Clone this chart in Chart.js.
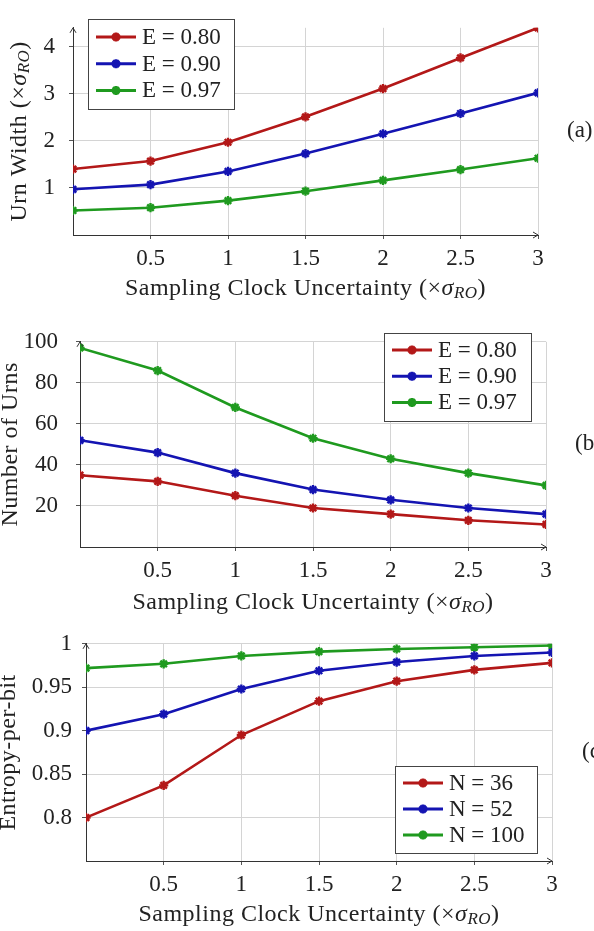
<!DOCTYPE html>
<html>
<head>
<meta charset="utf-8">
<script src="https://cdn.jsdelivr.net/npm/chart.js@4"></script>
<style>
  html, body { margin: 0; padding: 0; background: #fff; }
  #page { position: relative; width: 594px; height: 931px; overflow: hidden; }
  .panel { position: absolute; left: 0; width: 594px; }
</style>
</head>
<body>
<div id="page">
  <div class="panel" style="top:0;height:310px"><canvas id="chart-a"></canvas></div>
  <div class="panel" style="top:310px;height:310px"><canvas id="chart-b"></canvas></div>
  <div class="panel" style="top:620px;height:311px"><canvas id="chart-c"></canvas></div>
</div>
<script>
// ---- data ----
const xValues = [0, 0.5, 1, 1.5, 2, 2.5, 3];
const xTicks = [0.5, 1, 1.5, 2, 2.5, 3];

const widthLabels = ["E = 0.80", "E = 0.90", "E = 0.97"];
const widthE80 = [1.40, 1.57, 1.97, 2.51, 3.11, 3.76, 4.40];
const widthE90 = [0.97, 1.07, 1.35, 1.73, 2.15, 2.58, 3.02];
const widthE97 = [0.52, 0.58, 0.73, 0.93, 1.16, 1.39, 1.63];
const widthTicks = [1, 2, 3, 4];

const urnLabels = ["E = 0.80", "E = 0.90", "E = 0.97"];
const urnsE80 = [35, 32, 25, 19, 16, 13, 11];
const urnsE90 = [52, 46, 36, 28, 23, 19, 16];
const urnsE97 = [97, 86, 68, 53, 43, 36, 30];
const urnTicks = [20, 40, 60, 80, 100];

const entropyLabels = ["N = 36", "N = 52", "N = 100"];
const entropyN36 = [0.800, 0.837, 0.895, 0.934, 0.957, 0.970, 0.978];
const entropyN52 = [0.900, 0.919, 0.948, 0.969, 0.979, 0.986, 0.990];
const entropyN100 = [0.972, 0.977, 0.986, 0.991, 0.994, 0.996, 0.998];
const entropyTicks = [0.8, 0.85, 0.9, 0.95, 1];

const seriesColors = ["#b31818", "#1414b2", "#1f9a1f"];

const FONT = "'Liberation Serif', 'DejaVu Serif', serif";
const TEXT = "#222";
Chart.defaults.font.family = FONT;
Chart.defaults.font.size = 23;
Chart.defaults.color = TEXT;


// draw a row of text pieces (for the sigma_RO subscript)
function drawRich(ctx, parts, cx, cy, rot) {
  ctx.save();
  ctx.translate(cx, cy);
  ctx.rotate(rot || 0);
  ctx.textBaseline = "middle";
  ctx.fillStyle = TEXT;
  ctx.letterSpacing = "0.5px";
  let total = 0;
  parts.forEach(p => { ctx.font = p.font; p.w = ctx.measureText(p.t).width; total += p.w; });
  let x = -total / 2;
  parts.forEach(p => {
    ctx.font = p.font;
    ctx.fillText(p.t, x, p.dy || 0);
    x += p.w;
  });
  ctx.restore();
}

function titleParts(text, withSigma) {
  const parts = [{ t: text, font: "24px " + FONT }];
  if (withSigma) {
    parts[0].t = text + " (\u00d7";
    parts.push({ t: "\u03c3", font: "italic 24px " + FONT });
    parts.push({ t: "RO", font: "italic 17px " + FONT, dy: 5 });
    parts.push({ t: ")", font: "24px " + FONT });
  }
  return parts;
}


// ------------------------------
// DECORATIONS: legend box, axis titles, arrows, panel letter
// ------------------------------

const decorations = {
  id: "decorations",
  afterDraw(chart, args, o) {
    const ctx = chart.ctx;
    const area = chart.chartArea;

    // axis arrow heads
    ctx.save();
    ctx.strokeStyle = "#333";
    ctx.lineWidth = 1;
    ctx.beginPath();
    ctx.moveTo(area.left - 3, area.top + 5);
    ctx.lineTo(area.left, area.top);
    ctx.lineTo(area.left + 3, area.top + 5);
    ctx.moveTo(area.right - 5, area.bottom - 3);
    ctx.lineTo(area.right, area.bottom);
    ctx.lineTo(area.right - 5, area.bottom + 3);
    ctx.stroke();
    ctx.restore();

    // axis titles
    drawRich(ctx, titleParts(o.yTitle, o.yTitleSigma), o.yTitleX, (area.top + area.bottom) / 2, -Math.PI / 2);
    drawRich(ctx, titleParts("Sampling Clock Uncertainty", true), (area.left + area.right) / 2, o.xTitleY, 0);

    // panel letter
    ctx.save();
    ctx.font = "23px " + FONT;
    ctx.fillStyle = TEXT;
    ctx.textBaseline = "middle";
    ctx.fillText(o.panel, o.panelX, (area.top + area.bottom) / 2);
    ctx.restore();

    // legend
    const lg = o.legend;
    ctx.save();
    ctx.fillStyle = "#fff";
    ctx.fillRect(lg.x, lg.y, lg.w, lg.h);
    ctx.strokeStyle = "#444";
    ctx.lineWidth = 1;
    ctx.strokeRect(lg.x + 0.5, lg.y + 0.5, lg.w, lg.h);
    chart.data.datasets.forEach((ds, i) => {
      const y = lg.y + lg.first + i * lg.step;
      const x0 = lg.x + 8;
      const x1 = x0 + 40;
      ctx.strokeStyle = ds.borderColor;
      ctx.lineWidth = 3;
      ctx.beginPath();
      ctx.moveTo(x0, y);
      ctx.lineTo(x1, y);
      ctx.stroke();
      Chart.helpers.drawPoint(ctx, {
        pointStyle: ds.pointStyle, radius: 4.5, borderWidth: 2.4, rotation: 0
      }, (x0 + x1) / 2, y);
      ctx.fillStyle = TEXT;
      ctx.font = "23px " + FONT;
      ctx.textBaseline = "middle";
      ctx.fillText(ds.label, x1 + 6, y + 1);
    });
    ctx.restore();
  }
};


function makeDatasets(labels, series) {
  return series.map((vals, i) => ({
    label: labels[i],
    data: vals.map((v, k) => ({ x: xValues[k], y: v })),
    borderColor: seriesColors[i],
    backgroundColor: seriesColors[i],
    borderWidth: 2.6,
    pointStyle: "star",
    pointRadius: 4.6,
    pointBorderWidth: 2.4,
    tension: 0
  }));
}

function makeChart(id, cfg) {
  const ticksOf = list => s => { s.ticks = list.map(v => ({ value: v })); };
  return new Chart(document.getElementById(id), {
    type: "line",
    data: { datasets: makeDatasets(cfg.labels, cfg.series) },
    plugins: [decorations],
    options: {
      responsive: true,
      maintainAspectRatio: false,
      animation: false,
      layout: { padding: { left: 0, top: cfg.top, right: cfg.right, bottom: 0 } },
      plugins: {
        legend: { display: false },
        tooltip: { enabled: false },
        decorations: cfg.deco
      },
      scales: {
        x: {
          type: "linear",
          min: 0,
          max: 3,
          afterBuildTicks: ticksOf(xTicks),
          afterFit: s => { s.height = cfg.xHeight; },
          ticks: { padding: 6, maxRotation: 0, callback: v => String(+v.toFixed(3)) },
          grid: { color: "#d4d4d4", lineWidth: 1, tickLength: 4, tickColor: "#555" },
          border: { color: "#333", width: 1 }
        },
        y: {
          type: "linear",
          min: cfg.yMin,
          max: cfg.yMax,
          afterBuildTicks: ticksOf(cfg.yTicks),
          afterFit: s => { s.width = cfg.yWidth; },
          ticks: { padding: cfg.yPad, callback: v => String(+v.toFixed(3)) },
          grid: { color: "#d4d4d4", lineWidth: 1, tickLength: 4, tickColor: "#555" },
          border: { color: "#333", width: 1 }
        }
      }
    }
  });
}


// ------------------------------
// PANELS
// ------------------------------

makeChart("chart-a", {
  labels: widthLabels,
  series: [widthE80, widthE90, widthE97],
  yMin: 0, yMax: 4.4, yTicks: widthTicks,
  top: 13, right: 56, xHeight: 75, yWidth: 73, yPad: 14,
  deco: {
    yTitle: "Urn Width", yTitleSigma: true, yTitleX: 20, xTitleY: 289,
    panel: "(a)", panelX: 567,
    legend: { x: 88, y: 19, w: 146, h: 90, first: 18, step: 26.7 }
  }
});

makeChart("chart-b", {
  labels: urnLabels,
  series: [urnsE80, urnsE90, urnsE97],
  yMin: 0, yMax: 100, yTicks: urnTicks,
  top: 16, right: 48, xHeight: 73, yWidth: 80, yPad: 18,
  deco: {
    yTitle: "Number of Urns", yTitleSigma: false, yTitleX: 11, xTitleY: 293,
    panel: "(b)", panelX: 575,
    legend: { x: 384, y: 23, w: 147, h: 88, first: 17, step: 26.2 }
  }
});

makeChart("chart-c", {
  labels: entropyLabels,
  series: [entropyN36, entropyN52, entropyN100],
  yMin: 0.75, yMax: 1, yTicks: entropyTicks,
  top: 19, right: 42, xHeight: 70, yWidth: 86, yPad: 10,
  deco: {
    yTitle: "Entropy-per-bit", yTitleSigma: false, yTitleX: 9, xTitleY: 295,
    panel: "(c)", panelX: 582,
    legend: { x: 395, y: 146, w: 142, h: 87, first: 17, step: 26 }
  }
});
</script>
</body>
</html>
